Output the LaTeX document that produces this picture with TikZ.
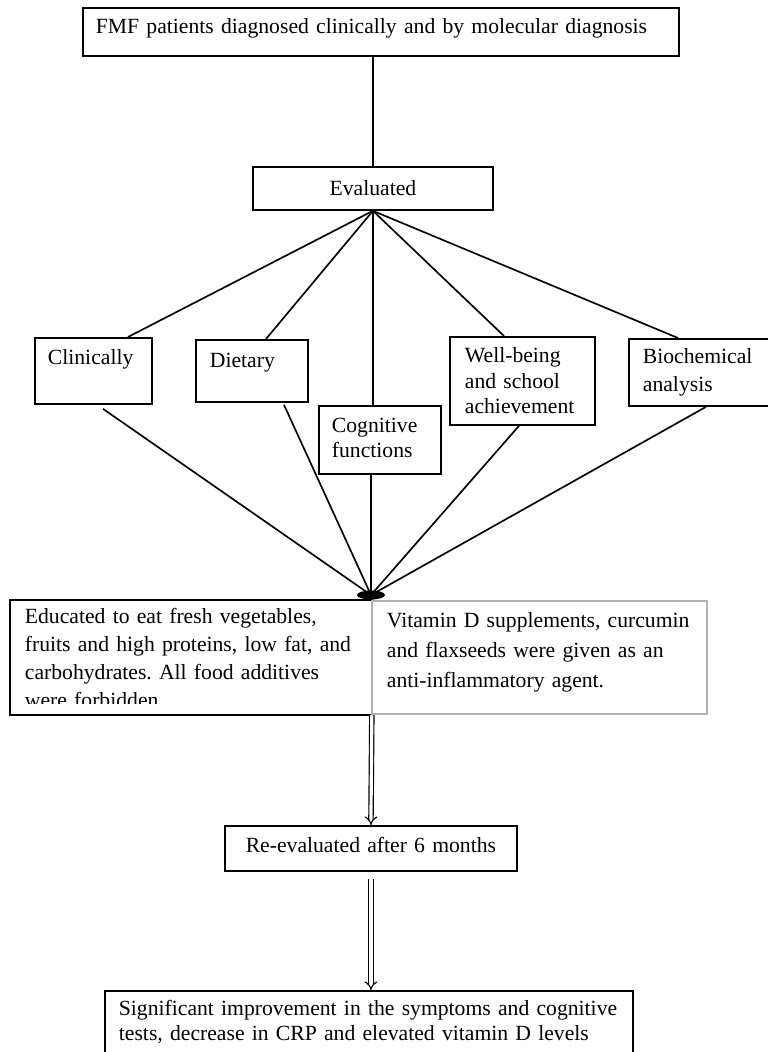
\documentclass[tikz,border=0pt]{standalone}
\usepackage{fontspec}
\setmainfont{Liberation Serif}
\usetikzlibrary{arrows.meta, positioning, calc, shapes.geometric}
\frenchspacing

\begin{document}
\begin{tikzpicture}[
  x=0.6pt, y=-0.6pt,
  every node/.style={font=\fontsize{13}{15.3}\selectfont},
  box/.style={draw, line width=1.1pt, anchor=north west, align=left, inner ysep=0pt},
  conn/.style={line width=1pt},
  dbl/.style={double, double distance=1.9pt, line width=0.7pt, -{Implies}},
  hub/.style={ellipse, fill, minimum width=16.8pt, minimum height=5.4pt, inner sep=0pt},
]
\useasboundingbox (0,0) rectangle (767,1052);

\node[box, inner xsep=7.8pt, text width=342pt, text height=15.6pt, text depth=13.2pt] (fmf) at (82,7)
  {FMF patients diagnosed clinically and by molecular diagnosis};
\node[box, align=center, inner xsep=3.6pt, text width=136.8pt, text height=17.4pt, text depth=8.4pt] (eval) at (252,166)
  {Evaluated};

% what was evaluated
\node[box, inner xsep=7.8pt, text width=54.6pt, text height=16.2pt, text depth=23.4pt] (clin) at (34,337) {Clinically};
\node[box, inner xsep=8.4pt, text width=50.4pt, text height=16.8pt, text depth=20.4pt] (diet) at (195,339) {Dietary};
\node[box, inner xsep=7.8pt, text width=57.6pt, text height=16.2pt, text depth=24.6pt,
  font=\fontsize{13}{15}\selectfont] (cogn) at (318,405) {Cognitive\\functions};
\node[box, inner xsep=9pt, text width=69pt, text height=15.6pt, text depth=37.2pt] (well) at (449,336)
  {Well-being\\and school\\achievement};
\node[box, inner xsep=8.4pt, text width=68.4pt, text height=15pt, text depth=25.2pt,
  font=\fontsize{13}{16.8}\selectfont] (bio) at (628,338) {Biochemical\\analysis};

\node[hub] (hub) at (371,595) {};

% intervention
\begin{scope}
  \clip (10,600) rectangle (370,703);
  \node[box, draw=none, inner xsep=8.4pt, text width=199.2pt, text height=13.8pt, text depth=54pt,
    font=\fontsize{13}{16.8}\selectfont] (educ) at (10,600)
    {Educated to eat fresh vegetables,\\fruits and high proteins, low fat, and\\carbohydrates. All food additives\\were forbidden};
\end{scope}
\draw[line width=1.1pt] (educ.south west) rectangle (educ.north east);
\node[box, draw=gray!60, inner xsep=9pt, text width=183pt, text height=16.2pt, text depth=51.6pt,
  font=\fontsize{13}{18}\selectfont] (supp) at (371,600)
  {Vitamin D supplements, curcumin\\and flaxseeds were given as an\\anti-inflammatory agent.};

\node[box, align=center, inner xsep=3.6pt, text width=168pt, text height=16.2pt, text depth=10.8pt] (reeval) at (224,825)
  {Re-evaluated after 6 months};
\node[box, inner xsep=8.4pt, text width=300pt, text height=15pt, text depth=33pt,
  font=\fontsize{13}{15}\selectfont] (result) at (104,990)
  {Significant improvement in the symptoms and cognitive\\tests, decrease in CRP and elevated vitamin D levels};

\draw[conn] (eval.north) -- (eval.north |- fmf.south);
\draw[conn] (eval.south) -- ($(clin.north west)+(94,0)$);
\draw[conn] (eval.south) -- ($(diet.north west)+(71,0)$);
\draw[conn] (eval.south) -- (eval.south |- cogn.north);
\draw[conn] (eval.south) -- ($(well.north west)+(55,0)$);
\draw[conn] (eval.south) -- ($(bio.north west)+(50,0)$);

\draw[conn] ($(clin.south west)+(69,4)$) -- (hub.center);
\draw[conn] ($(diet.south west)+(89,2)$) -- (hub.center);
\draw[conn] (hub |- cogn.south) -- (hub.center);
\draw[conn] ($(well.south west)+(70,0)$) -- (hub.center);
\draw[conn] ($(bio.south west)+(78,0)$) -- (hub.center);

\draw[dbl] (educ.south east) -- (reeval.north);
\draw[dbl] ($(reeval.south)+(0,7)$) -- (reeval.south |- result.north);
\end{tikzpicture}
\end{document}
